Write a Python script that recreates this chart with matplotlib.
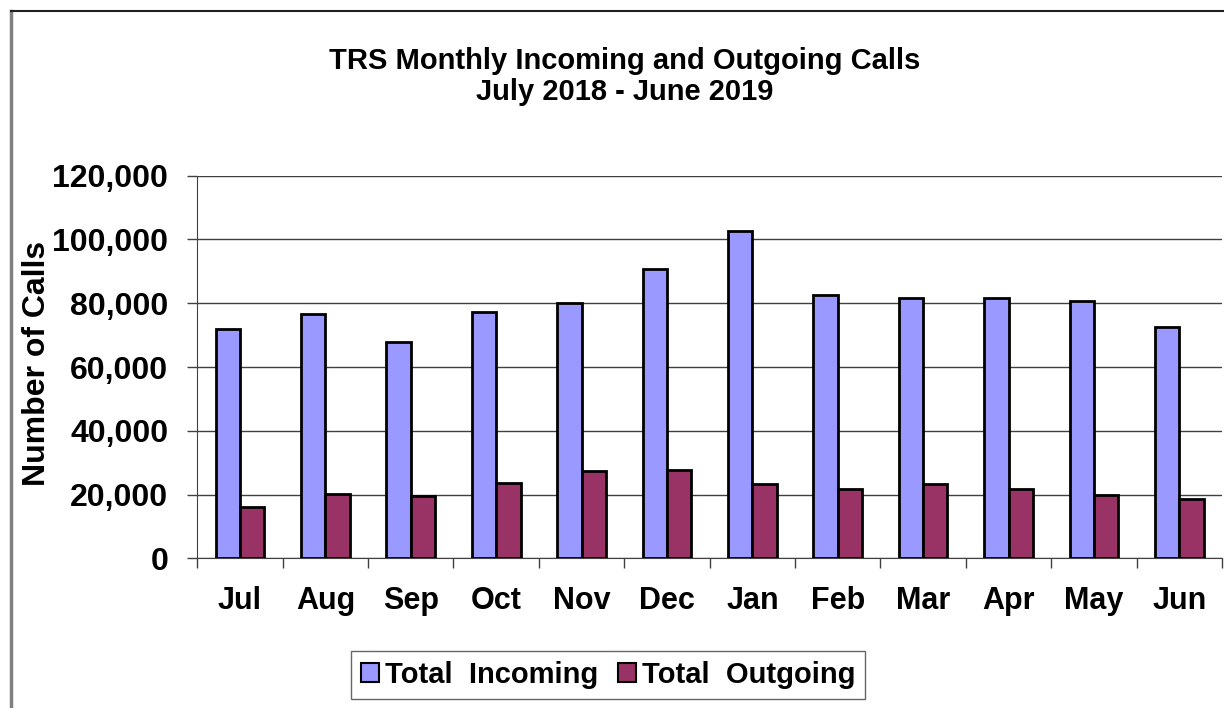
import matplotlib
matplotlib.use('Agg')
import matplotlib.pyplot as plt
import matplotlib.patches as mpatches
from matplotlib.ticker import FuncFormatter
import numpy as np

plt.rcParams['font.family'] = ['Liberation Sans', 'DejaVu Sans']
plt.rcParams['font.weight'] = 'bold'

months = ['Jul', 'Aug', 'Sep', 'Oct', 'Nov', 'Dec', 'Jan', 'Feb', 'Mar', 'Apr', 'May', 'Jun']
incoming = [71900, 76500, 67800, 77400, 80200, 90700, 102800, 82600, 81800, 81500, 80600, 72700]
outgoing = [16200, 20100, 19700, 23600, 27300, 27800, 23300, 21700, 23200, 21900, 19900, 18700]
yticks = [0, 20000, 40000, 60000, 80000, 100000, 120000]

c_in = '#9999FF'
c_out = '#993366'

fig = plt.figure(figsize=(12.24, 7.08), dpi=100)
ax = fig.add_axes([0.1612, 0.2114, 0.8372, 0.5404])

x = np.arange(len(months))
w = 0.285
ax.bar(x - w/2, incoming, w, color=c_in, edgecolor='black', linewidth=2, zorder=3)
ax.bar(x + w/2, outgoing, w, color=c_out, edgecolor='black', linewidth=2, zorder=3)

ax.set_xlim(-0.5, len(months) - 0.5)
ax.set_ylim(0, 120000)
ax.set_yticks(yticks)
ax.yaxis.set_major_formatter(FuncFormatter(lambda v, p: '{:,.0f}'.format(v)))
ax.tick_params(axis='y', labelsize=23, length=7, width=1, direction='out', pad=14, color='#404040')
ax.set_xticks(x)
ax.set_xticklabels(months)
ax.set_xticks(np.arange(len(months) + 1) - 0.5, minor=True)
ax.tick_params(axis='x', which='major', length=0, labelsize=22, pad=20)
ax.tick_params(axis='x', which='minor', length=7, width=1, direction='out', color='#404040')
ax.yaxis.grid(True, color='#404040', linewidth=1, zorder=0)
for s in ['top', 'right']:
    ax.spines[s].set_visible(False)
ax.spines['left'].set_color('#404040')
ax.spines['bottom'].set_color('#404040')

fig.text(0.51, 0.892, 'TRS Monthly Incoming and Outgoing Calls\nJuly 2018 - June 2019',
         ha='center', va='center', fontsize=21, fontweight='bold', linespacing=1.1)
fig.text(0.03, 0.486, 'Number of Calls', rotation=90, ha='center', va='center',
         fontsize=23, fontweight='bold')

# outer chart border (left/top)
fig.add_artist(plt.Line2D([0.009, 0.009], [0, 0.985], color='#808080', linewidth=2.5))
fig.add_artist(plt.Line2D([0.009, 1.0], [0.985, 0.985], color='#202020', linewidth=1.5))

handles = [mpatches.Patch(facecolor=c_in, edgecolor='black', linewidth=1.5),
           mpatches.Patch(facecolor=c_out, edgecolor='black', linewidth=1.5)]
leg = fig.legend(handles, ['Total  Incoming', 'Total  Outgoing'], loc='center',
                 bbox_to_anchor=(0.497, 0.047), ncol=2, fontsize=21, frameon=True,
                 fancybox=False, edgecolor='#404040', handlelength=0.6, handleheight=0.6,
                 handletextpad=0.2, columnspacing=0.7, borderpad=0.35)
leg.get_frame().set_linewidth(1)

fig.savefig('out.png', dpi=100)
